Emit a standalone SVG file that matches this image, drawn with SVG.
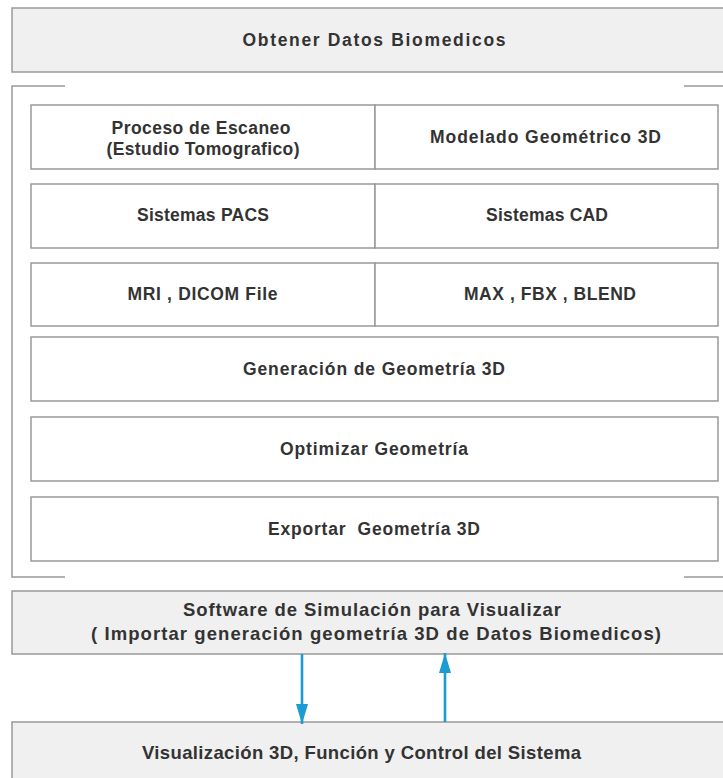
<svg xmlns="http://www.w3.org/2000/svg" width="723" height="778" viewBox="0 0 723 778">
<style>
.band{fill:#f0f0f0;stroke:#999;stroke-width:1.5}
.cell{fill:#fff;stroke:#999;stroke-width:1.5}
.frame{fill:none;stroke:#999;stroke-width:1.5}
text{font-family:"Liberation Sans",Arial,sans-serif;font-weight:bold;fill:#333;text-anchor:middle;font-size:17.5px}
.big{font-size:18.5px}
.conn{stroke:#1b9bd1;stroke-width:2.6;fill:none}
</style>
<defs>
<marker id="ah" viewBox="0 0 20 12" refX="20" refY="6" markerUnits="userSpaceOnUse" markerWidth="20" markerHeight="12" orient="auto">
<path d="M0,0 L20,6 L0,12 Z" fill="#1b9bd1"/>
</marker>
</defs>
<g id="obtener">
<rect class="band" x="12" y="8" width="720" height="64"/>
<text x="374" y="46" textLength="263" lengthAdjust="spacing">Obtener Datos Biomedicos</text>
</g>
<g id="frame">
<path class="frame" d="M65,86 H12 V577 H65 M684,86 H730 M684,577 H730"/>
</g>
<g id="proceso">
<rect class="cell" x="31" y="105" width="344" height="64"/>
<text x="201" y="134" textLength="179" lengthAdjust="spacing">Proceso de Escaneo</text>
<text x="203" y="155" textLength="193" lengthAdjust="spacing">(Estudio Tomografico)</text>
</g>
<g id="modelado">
<rect class="cell" x="375" y="105" width="343" height="64"/>
<text x="545.5" y="143" textLength="231" lengthAdjust="spacing">Modelado Geométrico 3D</text>
</g>
<g id="pacs">
<rect class="cell" x="31" y="184" width="344" height="64"/>
<text x="203" y="221" textLength="132" lengthAdjust="spacing">Sistemas PACS</text>
</g>
<g id="cad">
<rect class="cell" x="375" y="184" width="343" height="64"/>
<text x="547" y="221" textLength="122" lengthAdjust="spacing">Sistemas CAD</text>
</g>
<g id="mri">
<rect class="cell" x="31" y="263" width="344" height="63"/>
<text x="202.5" y="300" textLength="150" lengthAdjust="spacing">MRI , DICOM File</text>
</g>
<g id="max">
<rect class="cell" x="375" y="263" width="343" height="63"/>
<text x="550" y="300" textLength="172" lengthAdjust="spacing">MAX , FBX , BLEND</text>
</g>
<g id="generacion">
<rect class="cell" x="31" y="337" width="687" height="64"/>
<text x="374" y="375" textLength="262" lengthAdjust="spacing">Generación de Geometría 3D</text>
</g>
<g id="optimizar">
<rect class="cell" x="31" y="417" width="687" height="64"/>
<text x="374" y="455" textLength="188" lengthAdjust="spacing">Optimizar Geometría</text>
</g>
<g id="exportar">
<rect class="cell" x="31" y="497" width="687" height="64"/>
<text x="374" y="535" textLength="212" lengthAdjust="spacing" xml:space="preserve">Exportar  Geometría 3D</text>
</g>
<g id="software">
<rect class="band" x="12" y="591" width="720" height="63"/>
<text class="big" x="372" y="616" textLength="378" lengthAdjust="spacing">Software de Simulación para Visualizar</text>
<text class="big" x="376" y="640" textLength="570" lengthAdjust="spacing">( Importar generación geometría 3D de Datos Biomedicos)</text>
</g>
<g id="visualizacion">
<rect class="band" x="12" y="722" width="720" height="70"/>
<text class="big" x="361.5" y="759" textLength="439" lengthAdjust="spacing">Visualización 3D, Función y Control del Sistema</text>
</g>
<g id="connectors">
<line class="conn" x1="302" y1="654" x2="302" y2="724" marker-end="url(#ah)"/>
<line class="conn" x1="445" y1="722" x2="445" y2="653" marker-end="url(#ah)"/>
</g>
</svg>
